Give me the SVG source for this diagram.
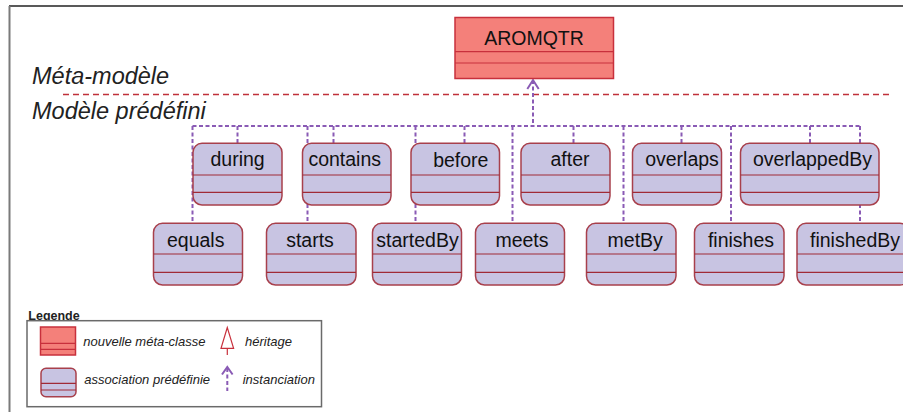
<svg xmlns="http://www.w3.org/2000/svg" width="903" height="412" viewBox="0 0 903 412">
<style>
.frameT{stroke:#222;stroke-width:1.5;fill:none}
.frameL{stroke:#7a7a7a;stroke-width:2;fill:none}
.meta{fill:#f4807a;stroke:#c8303c;stroke-width:1.5}
.metaDiv{stroke:#c8303c;stroke-width:1.2}
.assoc{fill:#c8c4e2;stroke:#a8404c;stroke-width:1.5}
.div{stroke:#a02a36;stroke-width:1.2}
.lbl{font-family:"Liberation Sans",Arial,sans-serif;font-size:19.5px;fill:#111;text-anchor:middle}
.layer{font-family:"Liberation Sans",Arial,sans-serif;font-size:23.5px;font-style:italic;fill:#222}
.leg{font-family:"Liberation Sans",Arial,sans-serif;font-size:13px;font-style:italic;fill:#222}
.legT{font-family:"Liberation Sans",Arial,sans-serif;font-size:12.5px;font-weight:bold;fill:#222}
.inst{stroke:#8a5bb5;stroke-width:2;fill:none;stroke-dasharray:4 2.5}
.instHead{stroke:#8a5bb5;stroke-width:2;fill:none}
.sep{stroke:#c0303a;stroke-width:1.3;stroke-dasharray:6 4;fill:none}
</style>

<g id="frame">
<line class="frameT" x1="9" y1="6" x2="903" y2="6"/>
<line class="frameL" x1="9.5" y1="6" x2="9.5" y2="412"/>
</g>

<g id="layers">
<text class="layer" x="32" y="84">Méta-modèle</text>
<line class="sep" x1="63" y1="94.5" x2="890" y2="94.5"/>
<text class="layer" x="32" y="119">Modèle prédéfini</text>
</g>

<g id="connectors">
<path class="inst" d="M533,80 V126"/>
<path class="inst" d="M192.5,126 H860"/>
<path class="inst" d="M192.5,126 V223.5"/>
<path class="inst" d="M237.5,126 V143"/>
<path class="inst" d="M307.5,126 V223.5"/>
<path class="inst" d="M333.5,126 V143"/>
<path class="inst" d="M415.5,126 V223.5"/>
<path class="inst" d="M464.5,126 V143"/>
<path class="inst" d="M512.5,126 V223.5"/>
<path class="inst" d="M573.5,126 V143"/>
<path class="inst" d="M623.5,126 V223.5"/>
<path class="inst" d="M681.5,126 V143"/>
<path class="inst" d="M731,126 V223.5"/>
<path class="inst" d="M810,126 V143"/>
<path class="inst" d="M860,126 V223.5"/>
<polyline class="instHead" points="527.3,89 533,80 538.7,89"/>
</g>

<g id="AROMQTR">
<rect class="meta" x="455" y="17.5" width="158.5" height="61"/>
<line class="metaDiv" x1="455" y1="51.7" x2="613.5" y2="51.7"/>
<line class="metaDiv" x1="455" y1="63" x2="613.5" y2="63"/>
<text class="lbl" x="534" y="45">AROMQTR</text>
</g>

<g id="during">
<rect class="assoc" x="193" y="143.3" width="89" height="61.7" rx="9"/>
<line class="div" x1="193" y1="175" x2="282" y2="175"/>
<line class="div" x1="193" y1="192.3" x2="282" y2="192.3"/>
<text class="lbl" x="237.6" y="166">during</text>
</g>
<g id="contains">
<rect class="assoc" x="302.5" y="143.3" width="88.5" height="61.7" rx="9"/>
<line class="div" x1="302.5" y1="175" x2="391" y2="175"/>
<line class="div" x1="302.5" y1="192.3" x2="391" y2="192.3"/>
<text class="lbl" x="344.7" y="166">contains</text>
</g>
<g id="before">
<rect class="assoc" x="411" y="143.3" width="88.5" height="61.7" rx="9"/>
<line class="div" x1="411" y1="175" x2="499.5" y2="175"/>
<line class="div" x1="411" y1="192.3" x2="499.5" y2="192.3"/>
<text class="lbl" x="460.8" y="167">before</text>
</g>
<g id="after">
<rect class="assoc" x="521" y="143.3" width="89" height="61.7" rx="9"/>
<line class="div" x1="521" y1="175" x2="610" y2="175"/>
<line class="div" x1="521" y1="192.3" x2="610" y2="192.3"/>
<text class="lbl" x="570" y="166">after</text>
</g>
<g id="overlaps">
<rect class="assoc" x="632.5" y="143.3" width="89" height="61.7" rx="9"/>
<line class="div" x1="632.5" y1="175" x2="721.5" y2="175"/>
<line class="div" x1="632.5" y1="192.3" x2="721.5" y2="192.3"/>
<text class="lbl" x="682" y="166">overlaps</text>
</g>
<g id="overlappedBy">
<rect class="assoc" x="740.5" y="143.3" width="138.5" height="61.7" rx="9"/>
<line class="div" x1="740.5" y1="175" x2="879" y2="175"/>
<line class="div" x1="740.5" y1="192.3" x2="879" y2="192.3"/>
<text class="lbl" x="812.5" y="166">overlappedBy</text>
</g>

<g id="equals">
<rect class="assoc" x="153.5" y="223.3" width="89" height="61.7" rx="9"/>
<line class="div" x1="153.5" y1="254" x2="242.5" y2="254"/>
<line class="div" x1="153.5" y1="272.3" x2="242.5" y2="272.3"/>
<text class="lbl" x="195.7" y="247">equals</text>
</g>
<g id="starts">
<rect class="assoc" x="266.5" y="223.3" width="89.5" height="61.7" rx="9"/>
<line class="div" x1="266.5" y1="254" x2="356" y2="254"/>
<line class="div" x1="266.5" y1="272.3" x2="356" y2="272.3"/>
<text class="lbl" x="310" y="247">starts</text>
</g>
<g id="startedBy">
<rect class="assoc" x="372.5" y="223.3" width="89" height="61.7" rx="9"/>
<line class="div" x1="372.5" y1="254" x2="461.5" y2="254"/>
<line class="div" x1="372.5" y1="272.3" x2="461.5" y2="272.3"/>
<text class="lbl" x="417.5" y="247">startedBy</text>
</g>
<g id="meets">
<rect class="assoc" x="475.5" y="223.3" width="89" height="61.7" rx="9"/>
<line class="div" x1="475.5" y1="254" x2="564.5" y2="254"/>
<line class="div" x1="475.5" y1="272.3" x2="564.5" y2="272.3"/>
<text class="lbl" x="522" y="247">meets</text>
</g>
<g id="metBy">
<rect class="assoc" x="586.5" y="223.3" width="89.5" height="61.7" rx="9"/>
<line class="div" x1="586.5" y1="254" x2="676" y2="254"/>
<line class="div" x1="586.5" y1="272.3" x2="676" y2="272.3"/>
<text class="lbl" x="635.2" y="247">metBy</text>
</g>
<g id="finishes">
<rect class="assoc" x="694.5" y="223.3" width="89.5" height="61.7" rx="9"/>
<line class="div" x1="694.5" y1="254" x2="784" y2="254"/>
<line class="div" x1="694.5" y1="272.3" x2="784" y2="272.3"/>
<text class="lbl" x="741" y="247">finishes</text>
</g>
<g id="finishedBy">
<rect class="assoc" x="797" y="223.3" width="112" height="61.7" rx="9"/>
<line class="div" x1="797" y1="254" x2="909" y2="254"/>
<line class="div" x1="797" y1="272.3" x2="909" y2="272.3"/>
<text class="lbl" x="855" y="247">finishedBy</text>
</g>

<g id="legend">
<text class="legT" x="28.3" y="320">Legende</text>
<rect x="27" y="320.7" width="294.5" height="86" fill="#fff" stroke="#6a6a6a" stroke-width="1.5"/>
<rect class="meta" x="40.5" y="327" width="35" height="28" stroke-width="1.2"/>
<line class="metaDiv" x1="40.5" y1="343.3" x2="75.5" y2="343.3"/>
<line class="metaDiv" x1="40.5" y1="349.3" x2="75.5" y2="349.3"/>
<text class="leg" x="83.3" y="346">nouvelle méta-classe</text>
<polygon points="227.3,327.5 221,348.3 233.6,348.3" fill="#fff" stroke="#c8303c" stroke-width="1.2"/>
<line x1="227.3" y1="348.3" x2="227.3" y2="355" stroke="#c8303c" stroke-width="1.2"/>
<text class="leg" x="245" y="346">héritage</text>
<rect class="assoc" x="41" y="368.3" width="35" height="28.4" rx="5" stroke-width="1.2"/>
<line class="div" x1="41" y1="383.3" x2="76" y2="383.3"/>
<line class="div" x1="41" y1="390" x2="76" y2="390"/>
<text class="leg" x="84.3" y="384.3">association prédéfinie</text>
<polyline class="instHead" points="222,374.5 227.3,367 232.6,374.5"/>
<path class="inst" d="M227.3,368 V391"/>
<text class="leg" x="242.7" y="384.3">instanciation</text>
</g>
</svg>
